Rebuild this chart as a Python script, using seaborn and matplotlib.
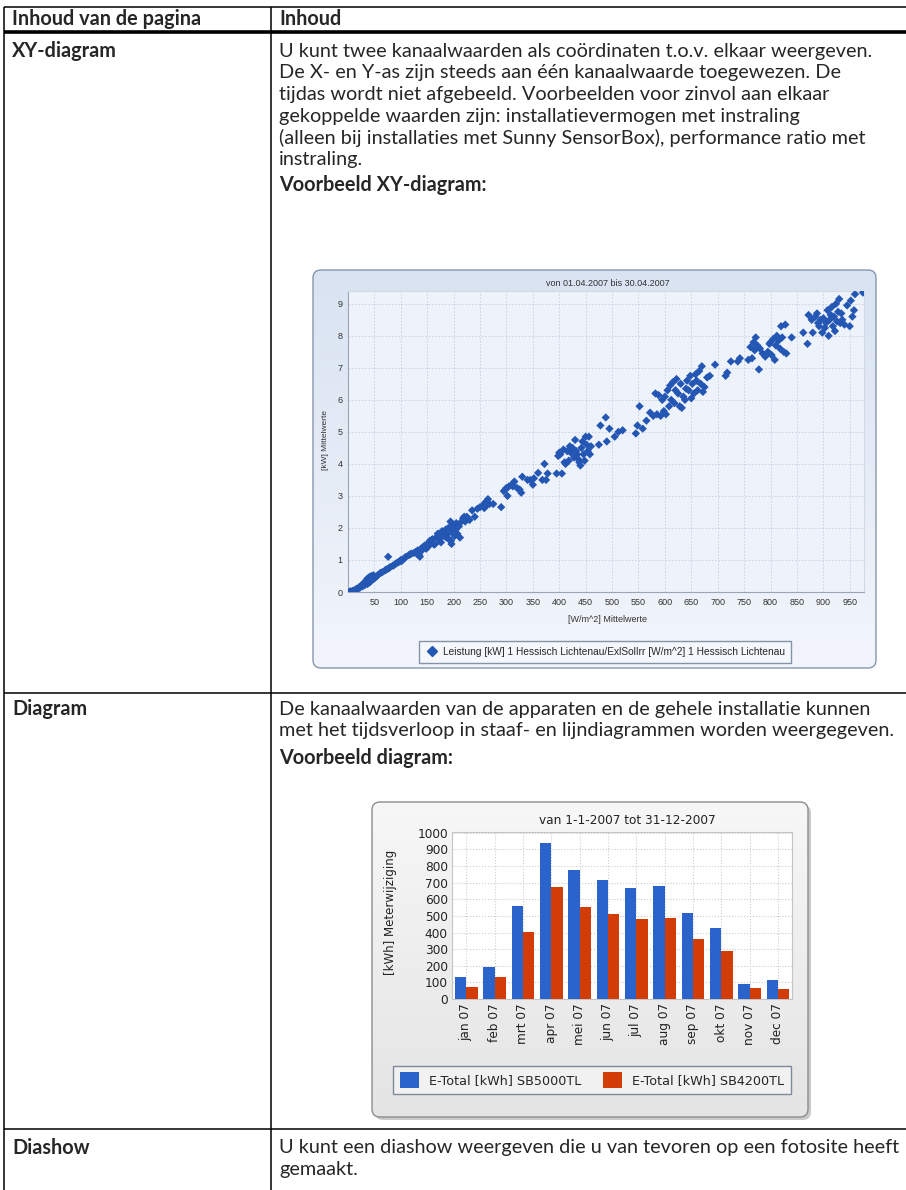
import matplotlib
matplotlib.use("Agg")
import matplotlib.pyplot as plt
from matplotlib.patches import FancyBboxPatch
from matplotlib.lines import Line2D
from matplotlib.colors import LinearSegmentedColormap
import seaborn as sns
import numpy as np
import pandas as pd

# --- XY-diagram: instraling [W/m^2] tegen vermogen [kW], april 2007 ---
instraling = [
    2, 4, 5, 6, 8, 9, 10, 12, 13, 15,
    16, 18, 20, 21, 23, 24, 25, 27, 28, 30,
    31, 32, 33, 34, 35, 36, 37, 38, 39, 40,
    41, 42, 43, 44, 45, 46, 47, 48, 50, 52,
    55, 58, 62, 65, 70, 72, 75, 78, 80, 76,
    85, 88, 90, 92, 95, 98, 100, 102, 105, 108,
    110, 115, 118, 120, 125, 128, 130, 132, 135, 136,
    138, 140, 142, 145, 148, 150, 152, 155, 158, 160,
    163, 165, 168, 170, 172, 175, 176, 178, 180, 182,
    185, 186, 188, 190, 191, 192, 194, 195, 196, 197,
    198, 200, 202, 204, 205, 207, 210, 212, 215, 218,
    220, 222, 225, 230, 235, 240, 245, 250, 255, 258,
    260, 262, 265, 268, 275, 290, 295, 298, 300, 302,
    305, 310, 312, 315, 320, 325, 328, 330, 340, 345,
    350, 352, 360, 368, 372, 375, 378, 395, 398, 400,
    402, 405, 408, 410, 412, 415, 418, 420, 422, 425,
    428, 430, 432, 434, 436, 438, 440, 442, 444, 446,
    448, 450, 452, 454, 456, 458, 460, 475, 478, 488,
    490, 495, 505, 512, 520, 545, 548, 552, 558, 565,
    572, 578, 582, 585, 588, 592, 595, 598, 600, 602,
    605, 608, 610, 612, 615, 618, 620, 622, 625, 628,
    630, 632, 635, 638, 640, 642, 645, 648, 650, 652,
    655, 658, 660, 662, 665, 668, 670, 672, 675, 680,
    685, 695, 715, 718, 725, 738, 742, 758, 762, 765,
    768, 770, 772, 775, 778, 780, 785, 790, 795, 798,
    800, 802, 805, 808, 810, 812, 815, 818, 820, 822,
    825, 828, 830, 840, 862, 870, 872, 878, 880, 885,
    888, 890, 892, 895, 898, 900, 903, 905, 908, 910,
    912, 914, 916, 918, 920, 922, 924, 926, 928, 930,
    932, 934, 936, 940, 945, 950, 952, 955, 958, 960,
    975,
]
vermogen = [
    0.0, 0.01, 0.02, 0.0, 0.02, 0.03, 0.04, 0.05, 0.03, 0.07,
    0.1, 0.08, 0.12, 0.15, 0.14, 0.18, 0.2, 0.22, 0.18, 0.25,
    0.3, 0.22, 0.28, 0.35, 0.3, 0.4, 0.25, 0.33, 0.45, 0.38,
    0.3, 0.48, 0.42, 0.35, 0.5, 0.4, 0.45, 0.52, 0.42, 0.48,
    0.5, 0.55, 0.6, 0.62, 0.67, 0.7, 0.72, 0.75, 0.78, 1.1,
    0.82, 0.85, 0.88, 0.9, 0.93, 0.95, 1.0, 0.97, 1.03, 1.08,
    1.1, 1.15, 1.18, 1.2, 1.22, 1.25, 1.2, 1.3, 1.15, 1.1,
    1.35, 1.3, 1.4, 1.45, 1.35, 1.5, 1.42, 1.6, 1.62, 1.65,
    1.48, 1.5, 1.72, 1.82, 1.65, 1.8, 1.55, 1.9, 1.75, 1.85,
    1.95, 1.7, 1.8, 2.0, 1.65, 1.9, 2.2, 1.6, 1.5, 2.05,
    1.85, 2.1, 1.75, 1.95, 2.15, 1.82, 2.05, 1.7, 2.2, 2.3,
    2.35, 2.2, 2.35, 2.25, 2.55, 2.35, 2.6, 2.65, 2.7, 2.62,
    2.8, 2.7, 2.9, 2.75, 2.75, 2.65, 3.15, 3.2, 3.25, 3.0,
    3.3, 3.35, 3.3, 3.45, 3.25, 3.2, 3.1, 3.6, 3.5, 3.5,
    3.35, 3.55, 3.72, 3.5, 4.0, 3.5, 3.7, 3.7, 4.25, 4.35,
    4.3, 3.7, 4.45, 4.05, 4.0, 4.4, 4.1, 4.55, 4.35, 4.5,
    4.2, 4.75, 4.4, 4.3, 4.15, 4.05, 3.95, 4.5, 4.7, 4.3,
    4.1, 4.85, 4.6, 4.4, 4.85, 4.3, 4.55, 4.6, 5.2, 5.45,
    4.7, 5.1, 4.85, 5.0, 5.05, 4.95, 5.2, 5.8, 5.1, 5.35,
    5.6, 5.5, 6.2, 5.55, 6.15, 5.5, 6.0, 5.65, 6.1, 5.55,
    6.3, 5.8, 6.45, 6.0, 6.55, 5.9, 6.3, 6.65, 6.2, 5.8,
    6.5, 5.75, 6.1, 6.0, 6.35, 6.6, 6.3, 6.75, 6.05, 6.5,
    6.2, 6.8, 6.6, 6.3, 6.9, 6.5, 7.05, 6.25, 6.4, 6.7,
    6.75, 7.1, 6.75, 6.85, 7.2, 7.2, 7.3, 7.25, 7.65, 7.3,
    7.8, 7.55, 7.95, 7.7, 6.95, 7.6, 7.45, 7.35, 7.5, 7.75,
    7.8, 7.4, 7.9, 7.25, 7.7, 8.0, 7.85, 7.6, 8.3, 7.95,
    7.5, 8.35, 7.45, 7.95, 8.1, 7.75, 8.65, 8.5, 8.1, 8.6,
    8.7, 8.4, 8.3, 8.5, 8.1, 8.55, 8.25, 8.4, 8.8, 8.0,
    8.5, 8.65, 8.9, 8.3, 8.6, 8.15, 9.0, 8.45, 8.75, 9.15,
    8.4, 8.7, 8.5, 8.35, 8.95, 8.3, 9.1, 8.6, 8.8, 9.3,
    9.35,
]
xy_titel = "von 01.04.2007 bis 30.04.2007"
xy_legenda = "Leistung [kW] 1 Hessisch Lichtenau/ExlSolIrr [W/m^2] 1 Hessisch Lichtenau"

# --- staafdiagram: maandopbrengst 2007 ---
maanden = ["jan 07", "feb 07", "mrt 07", "apr 07", "mei 07", "jun 07",
           "jul 07", "aug 07", "sep 07", "okt 07", "nov 07", "dec 07"]
sb5000 = [130, 192, 559, 941, 777, 715, 668, 682, 518, 427, 93, 115]
sb4200 = [75, 130, 403, 676, 551, 512, 482, 490, 364, 287, 69, 61]
series = ["E-Total [kWh] SB5000TL", "E-Total [kWh] SB4200TL"]

# --- tabeltekst ---
kop = ["Inhoud van de pagina", "Inhoud"]
xy_tekst = [
    "U kunt twee kanaalwaarden als coördinaten t.o.v. elkaar weergeven.",
    "De X- en Y-as zijn steeds aan één kanaalwaarde toegewezen. De",
    "tijdas wordt niet afgebeeld. Voorbeelden voor zinvol aan elkaar",
    "gekoppelde waarden zijn: installatievermogen met instraling",
    "(alleen bij installaties met Sunny SensorBox), performance ratio met",
    "instraling.",
]
diagram_tekst = [
    "De kanaalwaarden van de apparaten en de gehele installatie kunnen",
    "met het tijdsverloop in staaf- en lijndiagrammen worden weergegeven.",
]
diashow_tekst = [
    "U kunt een diashow weergeven die u van tevoren op een fotosite heeft",
    "gemaakt.",
]

W, H = 906, 1190
BODY = ["Lato", "DejaVu Sans"]
ARIAL = ["Liberation Sans", "DejaVu Sans"]
BLAUW = "#2a63c9"
ROOD = "#d23c06"

sns.set_style("white")
plt.rcParams["font.family"] = ["DejaVu Sans"]

fig = plt.figure(figsize=(W / 100, H / 100), dpi=100)
fig.patch.set_facecolor("white")


def fbox(l, t, r, b):
    return [l / W, 1 - b / H, (r - l) / W, (b - t) / H]


def hline(y, x0, x1, lw):
    fig.add_artist(Line2D([x0 / W, x1 / W], [1 - y / H, 1 - y / H], color="black",
                          lw=lw, transform=fig.transFigure, solid_capstyle="butt"))


def vline(x, y0, y1, lw):
    fig.add_artist(Line2D([x / W, x / W], [1 - y0 / H, 1 - y1 / H], color="black",
                          lw=lw, transform=fig.transFigure, solid_capstyle="butt"))


def txt(x, y, s, fs, bold=False, **kw):
    return fig.text(x / W, 1 - y / H, s, fontsize=fs, family=BODY, va="center", ha="left",
                    weight="bold" if bold else "normal", **kw)


def panel(l, t, r, b, top_col, bot_col, edge, shadow=False):
    ax = fig.add_axes(fbox(l, t, r, b), zorder=0)
    ax.set_axis_off()
    ax.set_xlim(0, 1)
    ax.set_ylim(0, 1)
    rs = 8.0 / (r - l)
    asp = (r - l) / (b - t)
    if shadow:
        sh = FancyBboxPatch((3.0 / (r - l), -3.0 / (b - t)), 1, 1,
                            boxstyle=f"round,pad=0,rounding_size={rs}", mutation_aspect=asp,
                            transform=ax.transAxes, fc="#a8a8a8", ec="none", clip_on=False, alpha=0.6)
        ax.add_patch(sh)
    grad = np.linspace(0, 1, 256)[:, None]
    cmap = LinearSegmentedColormap.from_list("g", [top_col, bot_col])
    im = ax.imshow(grad, cmap=cmap, aspect="auto", extent=[0, 1, 0, 1], origin="upper", zorder=1)
    box = FancyBboxPatch((0, 0), 1, 1, boxstyle=f"round,pad=0,rounding_size={rs}", mutation_aspect=asp,
                         transform=ax.transAxes, fc="none", ec=edge, lw=1.0, clip_on=False, zorder=2)
    ax.add_patch(box)
    im.set_clip_path(box)
    return ax


# ---------- body font size: widest text line fits the right column ----------
renderer = fig.canvas.get_renderer()
widest = 0
for line in xy_tekst + diagram_tekst + diashow_tekst:
    probe = txt(279, 50, line, 10)
    widest = max(widest, probe.get_window_extent(renderer).width)
    probe.remove()
FS = 10 * 624 / widest

# ---------- table ----------
hline(7, 4, 906, 1.1)
hline(32, 4, 906, 2.6)
hline(693, 4, 906, 1.1)
hline(1129, 4, 906, 1.1)
vline(4, 7, 1190, 1.1)
vline(271, 7, 1190, 1.1)

txt(12, 19, kop[0], FS, bold=True)
txt(279, 19, kop[1], FS, bold=True)

step = 21.8
y0 = 51
txt(12, y0, "XY-diagram", FS, bold=True)
for i, line in enumerate(xy_tekst):
    txt(279, y0 + i * step, line, FS)
txt(279, 185, "Voorbeeld XY-diagram:", FS, bold=True)

y1 = 709
txt(12, y1, "Diagram", FS, bold=True)
for i, line in enumerate(diagram_tekst):
    txt(279, y1 + i * step, line, FS)
txt(279, 758, "Voorbeeld diagram:", FS, bold=True)

y2 = 1148
txt(12, y2, "Diashow", FS, bold=True)
for i, line in enumerate(diashow_tekst):
    txt(279, y2 + i * step, line, FS)

# ---------- XY-diagram ----------
panel(313, 270, 876, 668, "#d9e3f2", "#f2f5fb", "#8796ad")
ax1 = fig.add_axes(fbox(348, 291, 864, 592), zorder=1)
sns.scatterplot(x=instraling, y=vermogen, marker="D", s=18, color="#2456b4",
                edgecolor="none", linewidth=0, ax=ax1, legend=False, zorder=3)
ax1.set_facecolor("#eef3fb")
ax1.set_xlim(0, 977)
ax1.set_ylim(0, 9.4)
ax1.set_xticks(range(50, 951, 50))
ax1.set_yticks(range(0, 10))
ax1.grid(True, color="#c6cedb", ls=(0, (2, 2)), lw=0.6)
ax1.set_axisbelow(True)
ax1.tick_params(labelsize=6.5, length=2, pad=2, colors="#9aa5b5", labelcolor="#333333")
for lab in ax1.get_xticklabels() + ax1.get_yticklabels():
    lab.set_family(ARIAL)
for side in ["top", "right"]:
    ax1.spines[side].set_color("#d3d9e3")
for side in ["left", "bottom"]:
    ax1.spines[side].set_color("#9aa5b5")
ax1.set_xlabel("[W/m^2] Mittelwerte", fontsize=6.5, family=ARIAL, color="#333333")
ax1.set_ylabel("[kW] Mittelwerte", fontsize=6.0, family=ARIAL, color="#333333")
ax1.xaxis.set_label_coords((607 - 348) / 516, (592 - 615) / 301)
ax1.yaxis.set_label_coords((329 - 348) / 516, (592 - 440) / 301)
fig.text(608 / W, 1 - 284 / H, xy_titel, fontsize=6.5, family=ARIAL, color="#333333",
         ha="center", va="center")
marker = Line2D([], [], marker="D", ls="none", color="#2456b4", markersize=5.5)
fig.legend([marker], [xy_legenda], loc="center", bbox_to_anchor=(605 / W, 1 - 652 / H),
           frameon=True, fancybox=False, edgecolor="#8593a8", facecolor="#f4f7fb",
           prop={"family": ARIAL, "size": 7.3}, borderpad=0.6, handletextpad=0.4,
           handlelength=1.3, framealpha=1)

# ---------- staafdiagram ----------
panel(372, 802, 808, 1117, "#f7f7f7", "#e4e4e4", "#8c8c8c", shadow=True)
ax2 = fig.add_axes(fbox(452, 832, 792, 999), zorder=1)
df = pd.DataFrame({
    "maand": maanden * 2,
    "kWh": sb5000 + sb4200,
    "serie": [series[0]] * len(maanden) + [series[1]] * len(maanden),
})
sns.barplot(data=df, x="maand", y="kWh", hue="serie", palette=[BLAUW, ROOD],
            saturation=1, width=0.8, linewidth=0, ax=ax2, zorder=3)
ax2.set_facecolor("white")
ax2.set_ylim(0, 1005)
ax2.set_yticks(range(0, 1001, 100))
ax2.grid(True, color="#cccccc", ls=":", lw=0.8)
ax2.set_axisbelow(True)
ax2.tick_params(axis="x", rotation=90)
ax2.tick_params(labelsize=8.7, length=0, pad=3, labelcolor="#222222")
for s in ax2.spines.values():
    s.set_color("#c4c4c4")
ax2.set_xlabel("")
ax2.set_ylabel("[kWh] Meterwijziging", fontsize=8.5, color="#222222")
ax2.yaxis.set_label_coords((397 - 452) / 340, (999 - 912) / 167)
fig.text(627 / W, 1 - 821 / H, "van 1-1-2007 tot 31-12-2007", fontsize=8.7,
         color="#222222", ha="center", va="center")
handles, labels = ax2.get_legend_handles_labels()
ax2.legend_.remove()
fig.legend(handles, labels, loc="center", ncol=2, mode="expand",
           bbox_to_anchor=fbox(387, 1061, 797, 1099), frameon=True, fancybox=False,
           edgecolor="#7d8a9c", facecolor="#f1f1f1", fontsize=9.2, borderpad=0.5,
           handlelength=1.5, handleheight=1.5, handletextpad=0.8, framealpha=1)

fig.savefig("out.png", dpi=100)
